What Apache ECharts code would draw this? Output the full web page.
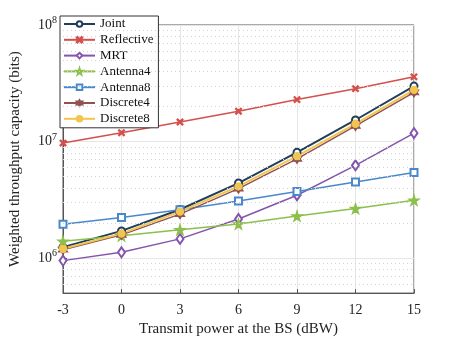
<!DOCTYPE html>
<html>
<head>
<meta charset="utf-8">
<script src="https://cdn.jsdelivr.net/npm/echarts@6/dist/echarts.min.js"></script>
<style>
  html, body { margin: 0; padding: 0; background: #fff; }
  #chart { width: 457px; height: 342px; }
</style>
</head>
<body>
<div id="chart"></div>
<script>
// transmit power (dBW)
const powers = [-3, 0, 3, 6, 9, 12, 15];

// weighted throughput capacity (bits)
const joint      = [1.24e6, 1.71e6, 2.61e6, 4.40e6, 8.07e6, 1.53e7, 2.99e7];
const reflective = [9.7e6, 1.19e7, 1.47e7, 1.82e7, 2.29e7, 2.84e7, 3.59e7];
const mrt        = [9.5e5, 1.12e6, 1.46e6, 2.16e6, 3.46e6, 6.25e6, 1.18e7];
const antenna4   = [1.39e6, 1.55e6, 1.75e6, 1.96e6, 2.29e6, 2.66e6, 3.13e6];
const antenna8   = [1.95e6, 2.23e6, 2.60e6, 3.09e6, 3.72e6, 4.50e6, 5.42e6];
const discrete4  = [1.18e6, 1.58e6, 2.38e6, 3.94e6, 7.10e6, 1.36e7, 2.64e7];
const discrete8  = [1.20e6, 1.62e6, 2.50e6, 4.12e6, 7.50e6, 1.42e7, 2.78e7];

// minor log grid values
const minorGrid = [6e5, 7e5, 8e5, 9e5,
  2e6, 3e6, 4e6, 5e6, 6e6, 7e6, 8e6, 9e6,
  2e7, 3e7, 4e7, 5e7, 6e7, 7e7, 8e7, 9e7];

const FONT = '"Liberation Serif", "DejaVu Serif", serif';

const crossPath = 'path://M0,0.12 L0.12,0 L0.5,0.38 L0.88,0 L1,0.12 L0.62,0.5 L1,0.88 L0.88,1 L0.5,0.62 L0.12,1 L0,0.88 L0.38,0.5 Z';
const starPath = 'path://M50,0 L61,35 L98,35 L68,57 L79,91 L50,70 L21,91 L32,57 L2,35 L39,35 Z';
const hexPath = 'path://M50,0 L64,25 L93,25 L79,50 L93,75 L64,75 L50,100 L36,75 L7,75 L21,50 L7,25 L36,25 Z';

const pairs = arr => arr.map((v, i) => [powers[i], v]);

const mkSeries = (name, data, color, symbol, size, width) => ({
  name: name,
  type: 'line',
  data: pairs(data),
  symbol: symbol,
  symbolSize: size,
  showSymbol: true,
  lineStyle: { color: color, width: width, type: 'solid' },
  itemStyle: { color: color, borderColor: color, borderWidth: 1.3 },
  emphasis: { disabled: true },
  z: 3
});

const chart = echarts.init(document.getElementById('chart'));

const series = [
  mkSeries('Joint', joint, '#213d5b', 'emptyCircle', 7, 2),
  mkSeries('Reflective', reflective, '#d4504c', crossPath, 6, 1.5),
  mkSeries('MRT', mrt, '#8455ad', 'emptyDiamond', [7, 10], 1.5),
  mkSeries('Antenna4', antenna4, '#8cbf4c', starPath, 10, 1.5),
  mkSeries('Antenna8', antenna8, '#4a88cc', 'emptyRect', 7, 1.5),
  mkSeries('Discrete4', discrete4, '#8f5452', hexPath, 9, 1.5),
  mkSeries('Discrete8', discrete8, '#f2c54e', 'circle', 7, 2)
];

// dotted minor grid lines, drawn through the log axis
series.push({
  name: 'minor',
  type: 'line',
  data: [],
  silent: true,
  z: 1,
  markLine: {
    silent: true,
    symbol: 'none',
    label: { show: false },
    lineStyle: { color: '#d4d4d4', type: [1, 3], width: 1 },
    data: minorGrid.map(v => ({ yAxis: v }))
  }
});

chart.setOption({
  animation: false,
  textStyle: { fontFamily: FONT },
  grid: {
    left: 59, right: 43, top: 25, bottom: 44,
    show: true,
    borderColor: '#555',
    borderWidth: 1
  },
  legend: {
    data: ['Joint', 'Reflective', 'MRT', 'Antenna4', 'Antenna8', 'Discrete4', 'Discrete8'],
    orient: 'vertical',
    left: 60,
    top: 16,
    itemWidth: 31,
    itemHeight: 7,
    itemGap: 1.8,
    padding: [1, 5, 2, 3],
    backgroundColor: '#fff',
    borderColor: '#333',
    borderWidth: 1,
    borderRadius: 0,
    textStyle: { fontFamily: FONT, fontSize: 13, lineHeight: 14, color: '#111' }
  },
  xAxis: {
    type: 'value',
    min: -3,
    max: 15,
    interval: 3,
    name: 'Transmit power at the BS (dBW)',
    nameLocation: 'middle',
    nameGap: 28,
    nameTextStyle: { fontFamily: FONT, fontSize: 15, color: '#222' },
    axisLine: { show: true, onZero: false, lineStyle: { color: '#555' } },
    axisTick: { show: true, inside: true, length: 4, lineStyle: { color: '#555' } },
    axisLabel: { fontFamily: FONT, fontSize: 14, color: '#222', margin: 10 },
    splitLine: { show: true, lineStyle: { color: '#e6e6e6', width: 1 } }
  },
  yAxis: {
    type: 'log',
    logBase: 10,
    min: 5e5,
    max: 1e8,
    name: 'Weighted throughput capacity (bits)',
    nameLocation: 'middle',
    nameGap: 40,
    nameTextStyle: { fontFamily: FONT, fontSize: 15, color: '#222' },
    axisLine: { show: true, onZero: false, lineStyle: { color: '#555' } },
    axisTick: { show: true, inside: true, length: 4, lineStyle: { color: '#555' } },
    axisLabel: {
      margin: 6,
      formatter: v => {
        const e = Math.log10(v);
        if (Math.abs(e - Math.round(e)) > 1e-6) return '';
        return '{b|10}{e|' + Math.round(e) + '}';
      },
      rich: {
        b: { fontFamily: FONT, fontSize: 14, color: '#222' },
        e: { fontFamily: FONT, fontSize: 10, color: '#222', padding: [0, 0, 9, 0] }
      }
    },
    splitLine: { show: true, lineStyle: { color: '#e6e6e6', width: 1 } }
  },
  series: series
});
</script>
</body>
</html>
